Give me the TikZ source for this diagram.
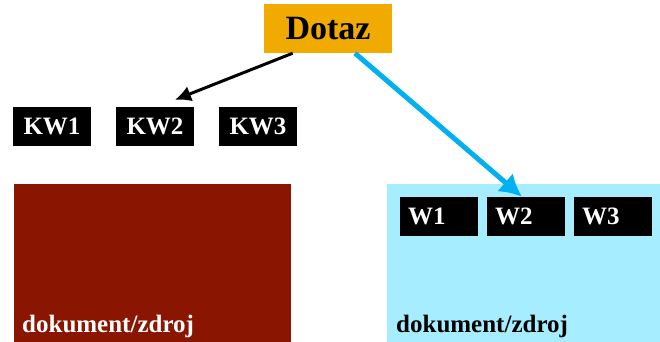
\documentclass[tikz,border=0pt]{standalone}
\usepackage{fontspec}
\setmainfont{Liberation Serif}
\usepackage{xcolor}
\usetikzlibrary{arrows.meta, positioning, calc}

\definecolor{dotazorange}{HTML}{F0AA00}
\definecolor{docred}{HTML}{8A1500}
\definecolor{docblue}{HTML}{A6EEFF}
\definecolor{arrowblue}{HTML}{00B0F0}

\tikzset{
  kwbox/.style={fill=black, text=white, font=\fontsize{25}{28}\selectfont\bfseries,
    minimum width=78pt, minimum height=39pt, inner sep=0pt},
  wbox/.style={fill=black, text=white, font=\fontsize{25}{28}\selectfont\bfseries,
    text width=62pt, align=left, inner xsep=8pt, inner ysep=0pt, minimum height=39pt},
  doclabel/.style={font=\fontsize{25}{28}\selectfont\bfseries, anchor=base west, inner sep=0pt}
}

\begin{document}
\begin{tikzpicture}[x=1pt, y=-1pt]
  \useasboundingbox (0,0) rectangle (660,342);

  % Query
  \node[fill=dotazorange, minimum width=128pt, minimum height=49pt, inner sep=0pt,
        font=\fontsize{34}{38}\selectfont\bfseries] (dotaz) at (328,28.5) {Dotaz};

  % Keywords
  \node[kwbox] (kw1) at (52,126.5) {KW1};
  \node[kwbox] (kw2) at (155,126.5) {KW2};
  \node[kwbox] (kw3) at (258,126.5) {KW3};

  % Documents
  \fill[docred] (14,184) rectangle (291,342);
  \fill[docblue] (387,184) rectangle (660,342);
  \node[doclabel, text=white] (docleft) at (22,332) {dokument/zdroj};
  \node[doclabel, text=black] (docright) at (396,332) {dokument/zdroj};

  % Words
  \node[wbox] (w1) at (439,216.5) {W1};
  \node[wbox] (w2) at (526,216.5) {W2};
  \node[wbox] (w3) at (613,216.5) {W3};

  % Arrows
  \draw[line width=3pt, -{Latex[length=16pt, width=16pt]}]
    (dotaz.215) -- ($(kw2.north)+(20,-7)$);
  \draw[line width=5pt, arrowblue, -{Latex[length=22pt, width=24pt]}]
    ($(dotaz.south)+(27,0)$) -- ($(w2.north)+(-4,0)$);
\end{tikzpicture}
\end{document}
